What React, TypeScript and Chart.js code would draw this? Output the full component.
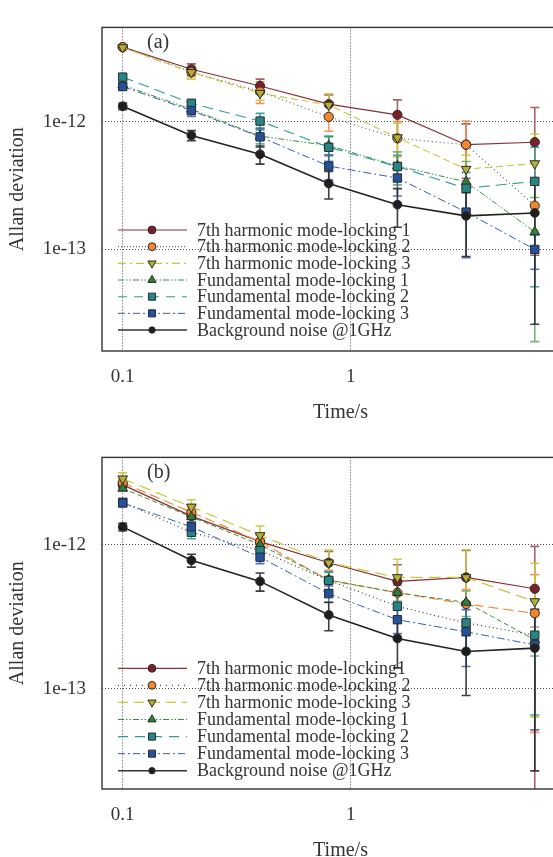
import React, { useEffect, useRef } from "react";
import { Chart, registerables } from "chart.js";

Chart.register(...registerables);

// ---------- data ----------
const times = [0.1, 0.2, 0.4, 0.8, 1.6, 3.2, 6.4];
const xTickValues = [0.1, 1];
const xTickLabels = ["0.1", "1"];
const yTickValues = [1e-13, 1e-12];
const yTickLabels = ["1e-13", "1e-12"];

const labelsA = [
  "7th harmonic mode-locking 1",
  "7th harmonic mode-locking 2",
  "7th harmonic mode-locking 3",
  "Fundamental mode-locking 1",
  "Fundamental mode-locking 2",
  "Fundamental mode-locking 3",
  "Background noise @1GHz",
];
const labelsB = [
  "7th harmonic mode-locking1",
  "7th harmonic mode-locking 2",
  "7th harmonic mode-locking 3",
  "Fundamental mode-locking 1",
  "Fundamental mode-locking 2",
  "Fundamental mode-locking 3",
  "Background noise @1GHz",
];

// Panel (a)
const aH1 = [3.83e-12, 2.57e-12, 1.9e-12, 1.37e-12, 1.13e-12, 6.6e-13, 6.9e-13];
const aH1Err = [0.12e-12, 0.26e-12, 0.25e-12, 0.25e-12, 0.35e-12, 0.3e-12, 0.6e-12];
const aH2 = [3.83e-12, 2.45e-12, 1.72e-12, 1.09e-12, 7.4e-13, 6.6e-13, 2.2e-13];
const aH2Err = [0.12e-12, 0.2e-12, 0.33e-12, 0.25e-12, 0.26e-12, 0.35e-12, 0.12e-12];
const aH3 = [3.8e-12, 2.43e-12, 1.67e-12, 1.35e-12, 7.5e-13, 4.25e-13, 4.7e-13];
const aH3Err = [0.12e-12, 0.28e-12, 0.2e-12, 0.3e-12, 0.22e-12, 0.12e-12, 0.33e-12];
const aF1 = [1.93e-12, 1.25e-12, 7.7e-13, 6.5e-13, 4.5e-13, 3.38e-13, 1.37e-13];
const aF1Err = [0.08e-12, 0.1e-12, 0.1e-12, 0.11e-12, 0.13e-12, 0.15e-12, 0.118e-12];
const aF2 = [2.23e-12, 1.39e-12, 1.01e-12, 6.3e-13, 4.45e-13, 3.01e-13, 3.41e-13];
const aF2Err = [0.1e-12, 0.1e-12, 0.15e-12, 0.14e-12, 0.1e-12, 0.1e-12, 0.29e-12];
const aF3 = [1.88e-12, 1.22e-12, 7.6e-13, 4.49e-13, 3.62e-13, 1.96e-13, 1.0e-13];
const aF3Err = [0.08e-12, 0.12e-12, 0.13e-12, 0.1e-12, 0.1e-12, 0.11e-12, 0.03e-12];
const aBG = [1.32e-12, 7.8e-13, 5.55e-13, 3.28e-13, 2.24e-13, 1.83e-13, 1.93e-13];
const aBGErr = [0.08e-12, 0.07e-12, 0.09e-12, 0.08e-12, 0.075e-12, 0.095e-12, 0.167e-12];

// Panel (b)
const bH1 = [2.6e-12, 1.58e-12, 1.05e-12, 7.5e-13, 5.57e-13, 5.93e-13, 4.95e-13];
const bH1Err = [0.15e-12, 0.15e-12, 0.12e-12, 0.15e-12, 0.17e-12, 0.32e-12, 0.48e-12];
const bH2 = [2.69e-12, 1.68e-12, 1.05e-12, 5.66e-13, 4.65e-13, 3.88e-13, 3.35e-13];
const bH2Err = [0.15e-12, 0.15e-12, 0.12e-12, 0.1e-12, 0.1e-12, 0.1e-12, 0.285e-12];
const bH3 = [2.87e-12, 1.83e-12, 1.16e-12, 7.5e-13, 5.93e-13, 5.93e-13, 4.04e-13];
const bH3Err = [0.28e-12, 0.22e-12, 0.19e-12, 0.17e-12, 0.2e-12, 0.33e-12, 0.34e-12];
const bF1 = [2.46e-12, 1.56e-12, 1.0e-12, 5.7e-13, 4.65e-13, 3.98e-13, 2.19e-13];
const bF1Err = [0.1e-12, 0.12e-12, 0.1e-12, 0.08e-12, 0.06e-12, 0.08e-12, 0.05e-12];
const bF2 = [1.97e-12, 1.22e-12, 9.1e-13, 5.66e-13, 3.74e-13, 2.87e-13, 2.36e-13];
const bF2Err = [0.1e-12, 0.12e-12, 0.1e-12, 0.08e-12, 0.08e-12, 0.11e-12, 0.17e-12];
const bF3 = [1.95e-12, 1.33e-12, 8.2e-13, 4.58e-13, 3.02e-13, 2.49e-13, 2.02e-13];
const bF3Err = [0.12e-12, 0.1e-12, 0.08e-12, 0.06e-12, 0.06e-12, 0.106e-12, 0.15e-12];
const bBG = [1.33e-12, 7.8e-13, 5.57e-13, 3.26e-13, 2.24e-13, 1.82e-13, 1.92e-13];
const bBGErr = [0.08e-12, 0.08e-12, 0.08e-12, 0.073e-12, 0.084e-12, 0.092e-12, 0.165e-12];

// ---------- styles ----------
const FONT = "'Liberation Serif', 'Times New Roman', Times, serif";
const TEXT = "#333333";

type Marker = { style: string; rot: number; r: number; fill: string };
const markers: Marker[] = [
  { style: "circle", rot: 0, r: 4.6, fill: "#7a1f28" },
  { style: "circle", rot: 0, r: 4.6, fill: "#f5862e" },
  { style: "triangle", rot: 180, r: 5.6, fill: "#b3b032" },
  { style: "triangle", rot: 0, r: 5.6, fill: "#2f7f38" },
  { style: "rect", rot: 0, r: 5.9, fill: "#268686" },
  { style: "rect", rot: 0, r: 5.9, fill: "#24509c" },
  { style: "circle", rot: 0, r: 4.4, fill: "#1e1e1e" },
];
const errColors = [
  "rgba(150,70,80,0.85)",
  "rgba(245,135,75,0.9)",
  "rgba(200,198,60,0.9)",
  "rgba(100,165,100,0.85)",
  "rgba(45,145,145,0.85)",
  "rgba(60,90,170,0.85)",
  "rgba(40,40,40,0.9)",
];

type LineStyle = { color: string; dash: number[]; width: number };
const linesA: LineStyle[] = [
  { color: "#8b2f35", dash: [], width: 1.2 },
  { color: "#555555", dash: [1, 3], width: 1.1 },
  { color: "#c8c63c", dash: [7, 4], width: 1.1 },
  { color: "#3a8f3a", dash: [6, 2, 1.5, 2, 1.5, 2], width: 1 },
  { color: "#2e9a9a", dash: [11, 6], width: 1.1 },
  { color: "#3060b0", dash: [8, 3, 2, 3], width: 1 },
  { color: "#222222", dash: [], width: 1.6 },
];
const linesB: LineStyle[] = [
  { color: "#8b2f35", dash: [], width: 1.2 },
  { color: "#f5863a", dash: [10, 5], width: 1.2 },
  { color: "#c8c63c", dash: [12, 6], width: 1.2 },
  { color: "#3a8f3a", dash: [5, 3], width: 1 },
  { color: "#333333", dash: [1, 3], width: 1.1 },
  { color: "#3060b0", dash: [8, 3, 2, 3], width: 1 },
  { color: "#222222", dash: [], width: 1.6 },
];
const legendLinesA: LineStyle[] = [
  { color: "#8b2f35", dash: [], width: 1.2 },
  { color: "#666666", dash: [1, 2], width: 1.1 },
  { color: "#c8c63c", dash: [8, 4, 2, 4], width: 1.3 },
  { color: "#3a8f3a", dash: [6, 2, 1.5, 2, 1.5, 2], width: 1 },
  { color: "#2e9a9a", dash: [9, 7], width: 1.1 },
  { color: "#3060b0", dash: [7, 3, 2, 3], width: 1 },
  { color: "#333333", dash: [], width: 1.6 },
];
const legendLinesB: LineStyle[] = [
  { color: "#8b2f35", dash: [], width: 1.2 },
  { color: "#444444", dash: [1, 5], width: 1.1 },
  { color: "#c8c63c", dash: [10, 6], width: 1.2 },
  { color: "#3a8f3a", dash: [6, 2, 1.5, 2, 1.5, 2], width: 1 },
  { color: "#2e9a9a", dash: [10, 7], width: 1.1 },
  { color: "#3060b0", dash: [7, 3, 2, 3], width: 1 },
  { color: "#333333", dash: [], width: 1.6 },
];

type PanelCfg = {
  tag: string;
  top: number;
  canvasH: number;
  padTop: number;
  yMin: number;
  yMax: number;
  labels: string[];
  values: number[][];
  errors: number[][];
  lines: LineStyle[];
  legendLines: LineStyle[];
  legendFirst: number; // distance above chart bottom of first row
  legendStep: number;
};

const X_MIN = 0.08114;
const X_MAX = 10;
const CANVAS_W = 590;

const panelA: PanelCfg = {
  tag: "(a)",
  top: 0,
  canvasH: 430,
  padTop: 11,
  yMin: 1.605e-14,
  yMax: 5.46e-12,
  labels: labelsA,
  values: [aH1, aH2, aH3, aF1, aF2, aF3, aBG],
  errors: [aH1Err, aH2Err, aH3Err, aF1Err, aF2Err, aF3Err, aBGErr],
  lines: linesA,
  legendLines: legendLinesA,
  legendFirst: 121,
  legendStep: 16.67,
};
const panelB: PanelCfg = {
  tag: "(b)",
  top: 430,
  canvasH: 438,
  padTop: 20,
  yMin: 2.023e-14,
  yMax: 4.034e-12,
  labels: labelsB,
  values: [bH1, bH2, bH3, bF1, bF2, bF3, bBG],
  errors: [bH1Err, bH2Err, bH3Err, bF1Err, bF2Err, bF3Err, bBGErr],
  lines: linesB,
  legendLines: legendLinesB,
  legendFirst: 120.7,
  legendStep: 17.07,
};

function drawMarker(ctx: CanvasRenderingContext2D, m: Marker, x: number, y: number, r: number) {
  ctx.save();
  ctx.setLineDash([]);
  ctx.fillStyle = m.fill;
  ctx.strokeStyle = "#2b2b2b";
  ctx.lineWidth = 1;
  ctx.beginPath();
  if (m.style === "circle") {
    ctx.arc(x, y, r, 0, Math.PI * 2);
  } else if (m.style === "rect") {
    const s = r * Math.SQRT1_2;
    ctx.rect(x - s, y - s, 2 * s, 2 * s);
  } else {
    let a = (m.rot * Math.PI) / 180;
    for (let k = 0; k < 3; k++) {
      const px = x + Math.sin(a) * r;
      const py = y - Math.cos(a) * r;
      if (k === 0) ctx.moveTo(px, py);
      else ctx.lineTo(px, py);
      a += (2 * Math.PI) / 3;
    }
  }
  ctx.closePath();
  ctx.fill();
  ctx.stroke();
  ctx.restore();
}

function makePlugin(cfg: PanelCfg) {
  return {
    id: "panelDecor",
    beforeDatasetsDraw(chart: any) {
      const { ctx, chartArea: ca } = chart;
      const ys = chart.scales.y;
      ctx.save();
      ctx.beginPath();
      ctx.rect(ca.left, ca.top, ca.right - ca.left, ca.bottom - ca.top);
      ctx.clip();
      ctx.setLineDash([]);
      ctx.lineWidth = 1.6;
      cfg.values.forEach((vals, i) => {
        const meta = chart.getDatasetMeta(i);
        ctx.strokeStyle = errColors[i];
        vals.forEach((v, j) => {
          const e = cfg.errors[i][j];
          const x = meta.data[j].x;
          const yT = ys.getPixelForValue(v + e);
          const lo = v - e;
          const yB = lo > 0 ? ys.getPixelForValue(lo) : ca.bottom + 20;
          ctx.beginPath();
          ctx.moveTo(x, yT);
          ctx.lineTo(x, yB);
          ctx.moveTo(x - 4.5, yT);
          ctx.lineTo(x + 4.5, yT);
          ctx.moveTo(x - 4.5, yB);
          ctx.lineTo(x + 4.5, yB);
          ctx.stroke();
        });
      });
      ctx.restore();
    },
    afterDatasetsDraw(chart: any) {
      const { ctx, chartArea: ca } = chart;
      ctx.save();
      // frame
      ctx.setLineDash([]);
      ctx.strokeStyle = "#333333";
      ctx.lineWidth = 1.4;
      ctx.strokeRect(ca.left, ca.top, ca.right - ca.left, ca.bottom - ca.top);
      // panel tag
      ctx.fillStyle = TEXT;
      ctx.font = `20px ${FONT}`;
      ctx.textAlign = "left";
      ctx.textBaseline = "middle";
      ctx.fillText(cfg.tag, ca.left + 45, ca.top + 15);
      // legend
      ctx.font = `18px ${FONT}`;
      cfg.labels.forEach((label, i) => {
        const y = ca.bottom - cfg.legendFirst + i * cfg.legendStep;
        const ls = cfg.legendLines[i];
        ctx.save();
        ctx.strokeStyle = ls.color;
        ctx.lineWidth = ls.width;
        ctx.setLineDash(ls.dash);
        ctx.beginPath();
        ctx.moveTo(ca.left + 16, y);
        ctx.lineTo(ca.left + 85, y);
        ctx.stroke();
        ctx.restore();
        const m = markers[i];
        drawMarker(ctx, m, ca.left + 50, y, i === 6 ? 3.2 : m.r * 0.85);
        ctx.fillStyle = TEXT;
        ctx.fillText(label, ca.left + 95, y + 1);
      });
      ctx.restore();
    },
  };
}

function Panel({ cfg }: { cfg: PanelCfg }) {
  const ref = useRef<HTMLCanvasElement>(null);
  useEffect(() => {
    const canvas = ref.current!;
    const datasets = cfg.values.map((vals, i) => ({
      label: cfg.labels[i],
      data: times.map((t, j) => ({ x: t, y: vals[j] })),
      borderColor: cfg.lines[i].color,
      borderWidth: cfg.lines[i].width,
      borderDash: cfg.lines[i].dash,
      backgroundColor: markers[i].fill,
      pointBackgroundColor: markers[i].fill,
      pointBorderColor: "#2b2b2b",
      pointBorderWidth: 1,
      pointStyle: markers[i].style,
      pointRotation: markers[i].rot,
      pointRadius: markers[i].r,
      fill: false,
      tension: 0,
      order: cfg.values.length - i,
    }));
    const chart = new Chart(canvas, {
      type: "line",
      data: { datasets },
      options: {
        animation: false,
        responsive: false,
        maintainAspectRatio: false,
        layout: { padding: { left: 0, top: cfg.padTop, right: 11, bottom: 0 } },
        plugins: { legend: { display: false }, tooltip: { enabled: false } },
        scales: {
          x: {
            type: "logarithmic",
            min: X_MIN,
            max: X_MAX,
            afterBuildTicks: (s: any) => {
              s.ticks = xTickValues.map((v) => ({ value: v }));
            },
            afterFit: (s: any) => {
              s.height = 79;
            },
            ticks: {
              callback: (_v: any, i: number) => xTickLabels[i],
              font: { family: FONT, size: 19 },
              color: TEXT,
              padding: 15,
              autoSkip: false,
              maxRotation: 0,
            },
            grid: { color: "rgba(40,40,40,0.85)", lineWidth: 1, drawTicks: false },
            border: { display: false, dash: [1, 2] },
            title: {
              display: true,
              text: "Time/s",
              font: { family: FONT, size: 20 },
              color: TEXT,
              padding: { top: 0, bottom: 5 },
            },
          },
          y: {
            type: "logarithmic",
            min: cfg.yMin,
            max: cfg.yMax,
            afterBuildTicks: (s: any) => {
              s.ticks = yTickValues.map((v) => ({ value: v }));
            },
            afterFit: (s: any) => {
              s.width = 102;
            },
            ticks: {
              callback: (_v: any, i: number) => yTickLabels[i],
              font: { family: FONT, size: 19 },
              color: TEXT,
              padding: 16,
              autoSkip: false,
            },
            grid: { color: "rgba(40,40,40,0.85)", lineWidth: 1, drawTicks: false },
            border: { display: false, dash: [1, 2] },
            title: {
              display: true,
              text: "Allan deviation",
              font: { family: FONT, size: 20 },
              color: TEXT,
              padding: { top: 6, bottom: 0 },
            },
          },
        },
      } as any,
      plugins: [makePlugin(cfg) as any],
    });
    return () => chart.destroy();
  }, [cfg]);
  return (
    <canvas
      ref={ref}
      width={CANVAS_W}
      height={cfg.canvasH}
      style={{ position: "absolute", left: 0, top: cfg.top, width: CANVAS_W, height: cfg.canvasH }}
    />
  );
}

export default function App() {
  return (
    <div
      style={{
        position: "absolute",
        left: 0,
        top: 0,
        width: 553,
        height: 857,
        overflow: "hidden",
        background: "#ffffff",
      }}
    >
      <Panel cfg={panelA} />
      <Panel cfg={panelB} />
    </div>
  );
}
